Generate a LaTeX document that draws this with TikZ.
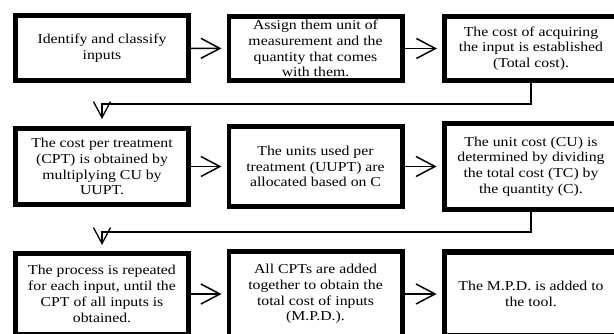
\documentclass[tikz,border=0pt]{standalone}
\usepackage{fontspec}
\setmainfont{Liberation Serif}[FakeStretch=1.16]
\usetikzlibrary{arrows.meta}
\tikzset{
  boxnode/.style={draw=black, line width=4.6pt, fill=white, inner sep=0pt,
    align=center, font=\fontsize{13.6}{15.8}\selectfont, minimum width=173.4pt},
  harrow/.style={line width=1.5pt, -{Straight Barb[length=19pt,width=20pt,line width=1.5pt]}, shorten >=5pt},
  varrow/.style={line width=1.3pt, -{Straight Barb[length=16pt,width=17pt,line width=1.3pt]}}
}
\begin{document}
\begin{tikzpicture}[x=1pt,y=-1pt]
\useasboundingbox (0,0) rectangle (614,334);
\clip (0,0) rectangle (614,334);
\fill[white] (0,0) rectangle (614,334);
% row 1
\node[boxnode, minimum height=64.9pt] (b11) at (102,48.25) {Identify and classify\\inputs};
\node[boxnode, minimum height=64.4pt] (b12) at (315.5,48.5) {Assign them unit of\\measurement and the\\quantity that comes\\with them.};
\node[boxnode, minimum height=64.4pt] (b13) at (531,48.5) {The cost of acquiring\\the input is established\\(Total cost).};
% row 2
\node[boxnode, minimum height=76.4pt] (b21) at (102,166.5) {The cost per treatment\\(CPT) is obtained by\\multiplying CU by\\UUPT.};
\node[boxnode, minimum height=80.4pt] (b22) at (315.5,166.5) {The units used per\\treatment (UUPT) are\\allocated based on C};
\node[boxnode, line width=5.4pt, minimum height=85.6pt] (b23) at (531,166.5) {The unit cost (CU) is\\determined by dividing\\the total cost (TC) by\\the quantity (C).};
% row 3
\node[boxnode, minimum height=81.4pt] (b31) at (102,294) {The process is repeated\\for each input, until the\\CPT of all inputs is\\obtained.};
\node[boxnode, minimum height=85.4pt] (b32) at (315.5,294) {All CPTs are added\\together to obtain the\\total cost of inputs\\(M.P.D.).};
\node[boxnode, line width=5.4pt, minimum height=83.6pt] (b33) at (531,294) {The M.P.D. is added to\\the tool.};
% horizontal arrows
\draw[harrow] (b11.east) -- (b12.west);
\draw[harrow] (b12.east) -- (b13.west);
\draw[harrow] (b21.east) -- (b22.west);
\draw[harrow] (b22.east) -- (b23.west);
\draw[harrow] (b31.east) -- (b32.west);
\draw[harrow] (b32.east) -- (b33.west);
% row connectors
\draw[varrow, shorten >=7pt] (b13.south) -- ++(0,21) -| (b21.north);
\draw[varrow, shorten >=6pt] (b23.south) -- ++(0,20) -| (b31.north);
\end{tikzpicture}
\end{document}
